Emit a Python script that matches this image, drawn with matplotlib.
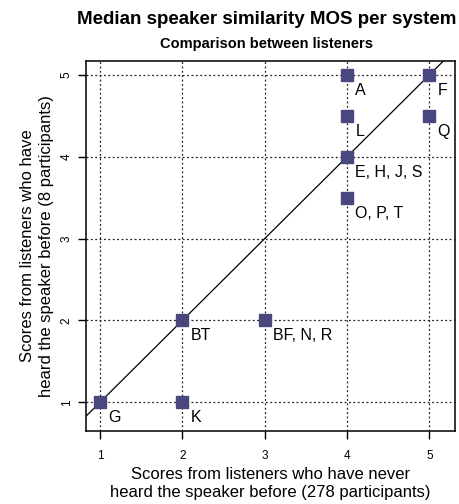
import matplotlib.pyplot as plt

plt.rcParams['font.family'] = ['Liberation Sans', 'DejaVu Sans']

# Median MOS per system: never heard (x) vs heard before (y)
systems = ['A', 'F', 'L', 'Q', 'E, H, J, S', 'O, P, T', 'BT', 'BF, N, R', 'G', 'K']
never_heard = [4, 5, 4, 5, 4, 4, 2, 3, 1, 2]
heard_before = [5, 5, 4.5, 4.5, 4, 3.5, 2, 2, 1, 1]
ticks = [1, 2, 3, 4, 5]

fig = plt.figure(figsize=(4.6, 5.04), dpi=100)
ax = fig.add_axes([0.187, 0.145, 0.802, 0.734])

ax.set_xlim(0.83, 5.31)
ax.set_ylim(0.65, 5.17)

# dotted grid at integer values
for t in ticks:
    ax.axvline(t, color='#222222', lw=0.9, ls=(0, (1.5, 2)), zorder=1)
    ax.axhline(t, color='#222222', lw=0.9, ls=(0, (1.5, 2)), zorder=1)

# identity line
ax.axline((0, 0), slope=1, color='black', lw=0.9, zorder=2)

ax.plot(never_heard, heard_before, 's', color='#48487f', markersize=8.5, zorder=3)

for name, x, y in zip(systems, never_heard, heard_before):
    ax.text(x + 0.1, y - 0.19, name, fontsize=11.5, ha='left', va='center', zorder=4)

ax.set_xticks(ticks)
ax.set_yticks(ticks)
ax.tick_params(axis='both', direction='out', length=6, width=1, labelsize=8.5)
ax.tick_params(axis='x', pad=8)
for lab in ax.get_yticklabels():
    lab.set_rotation(90)
    lab.set_va('center')
for s in ax.spines.values():
    s.set_linewidth(1.1)

ax.set_xlabel('Scores from listeners who have never\nheard the speaker before (278 participants)',
              fontsize=12, labelpad=3, linespacing=1.25)
ax.set_ylabel('Scores from listeners who have\nheard the speaker before (8 participants)',
              fontsize=12, labelpad=5, linespacing=1.3)

fig.text(0.58, 0.962, 'Median speaker similarity MOS per system', fontsize=13.5,
         fontweight='bold', ha='center', va='center')
fig.text(0.58, 0.912, 'Comparison between listeners', fontsize=10.5,
         fontweight='bold', ha='center', va='center')

fig.savefig('out.png', dpi=100)
